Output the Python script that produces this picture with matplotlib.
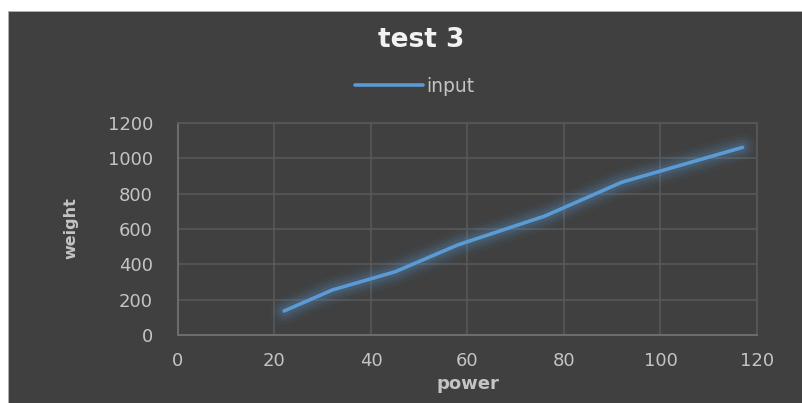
import matplotlib
matplotlib.use("Agg")
import matplotlib.pyplot as plt
from matplotlib.patches import Rectangle

# data
power = [22, 32, 45, 58, 76, 92, 117]
weight = [136, 255, 358, 510, 673, 865, 1062]
x_ticks = [0, 20, 40, 60, 80, 100, 120]
y_ticks = [0, 200, 400, 600, 800, 1000, 1200]

bg = "#404040"
grid_c = "#585858"
txt = "#c4c4c4"
line_c = "#5b9bd5"

fig = plt.figure(figsize=(8.03, 4.03), dpi=100)
fig.patch.set_facecolor("white")
# dark chart area, leaving a thin white strip left and top
fig.patches.append(Rectangle((8 / 803, 0), 1, (403 - 11) / 403,
                             transform=fig.transFigure, facecolor=bg,
                             edgecolor="#b0b0b0", linewidth=0.6, zorder=-10))

ax = fig.add_axes([178 / 803, 68 / 403, 579 / 803, 212 / 403])
ax.set_facecolor(bg)

# soft glow under the line
for lw, a in [(20, 0.05), (15, 0.07), (11, 0.09), (7, 0.13)]:
    ax.plot(power, weight, color=line_c, lw=lw, alpha=a,
            solid_capstyle="round", solid_joinstyle="round")
ax.plot(power, weight, color=line_c, lw=2.6, label="input",
        solid_capstyle="round", solid_joinstyle="round")

ax.set_xlim(0, 120)
ax.set_ylim(0, 1200)
ax.set_xticks(x_ticks)
ax.set_yticks(y_ticks)
ax.grid(True, color=grid_c, lw=1.2)
ax.set_axisbelow(True)
for s in ["top", "right"]:
    ax.spines[s].set_color(grid_c)
    ax.spines[s].set_linewidth(1.2)
for s in ["left", "bottom"]:
    ax.spines[s].set_color("#6e6e6e")
    ax.spines[s].set_linewidth(1.4)
ax.tick_params(length=0, colors=txt, labelsize=13)
ax.tick_params(axis="y", pad=18)
ax.tick_params(axis="x", pad=12)

ax.set_xlabel("power", color=txt, fontsize=13, fontweight="bold")
ax.set_ylabel("weight", color=txt, fontsize=11.5, fontweight="bold")
ax.xaxis.set_label_coords(0.501, -0.19)
ax.yaxis.set_label_coords(-0.172, 0.505)

fig.text(421 / 803, 1 - 40 / 403, "test 3", color="#f2f2f2", fontsize=19,
         fontweight="bold", ha="center", va="center")

leg = ax.legend(handles=ax.lines[-1:], loc="center",
                bbox_to_anchor=(415 / 803, 1 - 86 / 403),
                bbox_transform=fig.transFigure, frameon=False, fontsize=13.5,
                handlelength=3.6, handletextpad=0.2)
for t in leg.get_texts():
    t.set_color(txt)

fig.savefig("out.png", dpi=100, facecolor=fig.get_facecolor())
